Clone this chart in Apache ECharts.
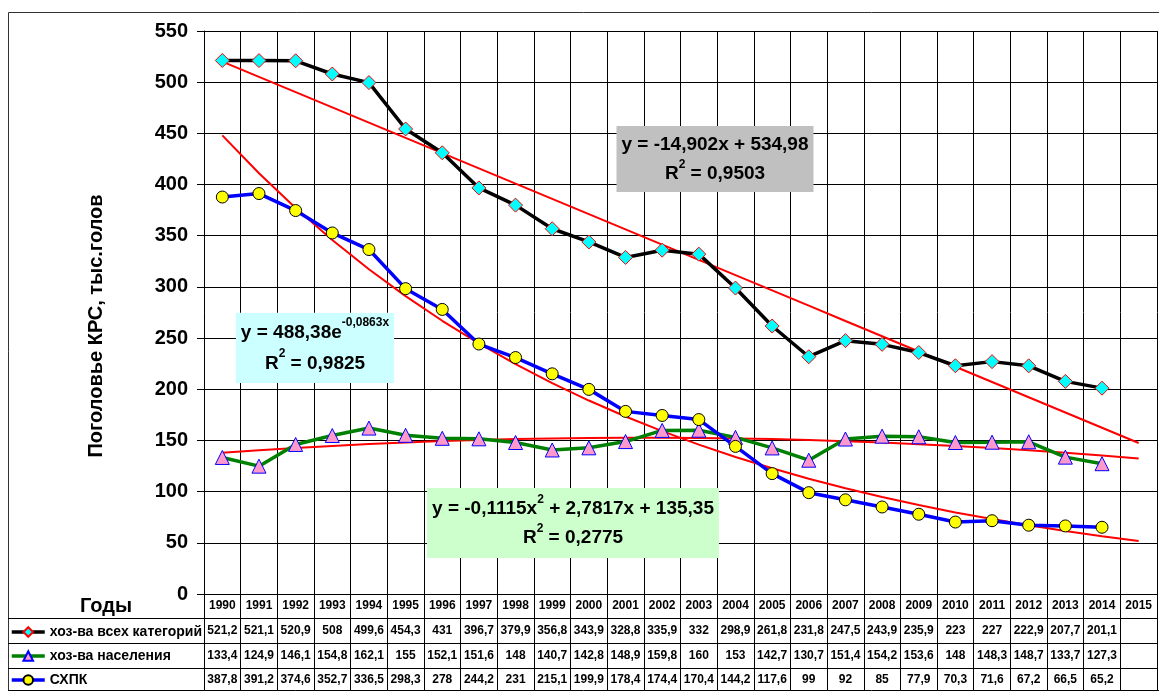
<!DOCTYPE html>
<html>
<head>
<meta charset="utf-8">
<script src="https://cdn.jsdelivr.net/npm/echarts@6/dist/echarts.min.js"></script>
<style>
  html, body { margin: 0; padding: 0; background: #fff; }
  #chart { width: 1159px; height: 691px; }
</style>
</head>
<body>
<div id="chart"></div>
<script>
// categories
const years = ['1990','1991','1992','1993','1994','1995','1996','1997','1998','1999','2000','2001','2002',
  '2003','2004','2005','2006','2007','2008','2009','2010','2011','2012','2013','2014','2015'];

// series values (thousand head), 2015 is empty in the table
const allFarms = [521.2, 521.1, 520.9, 508, 499.6, 454.3, 431, 396.7, 379.9, 356.8, 343.9, 328.8, 335.9,
  332, 298.9, 261.8, 231.8, 247.5, 243.9, 235.9, 223, 227, 222.9, 207.7, 201.1, null];
const households = [133.4, 124.9, 146.1, 154.8, 162.1, 155, 152.1, 151.6, 148, 140.7, 142.8, 148.9, 159.8,
  160, 153, 142.7, 130.7, 151.4, 154.2, 153.6, 148, 148.3, 148.7, 133.7, 127.3, null];
const shpk = [387.8, 391.2, 374.6, 352.7, 336.5, 298.3, 278, 244.2, 231, 215.1, 199.9, 178.4, 174.4,
  170.4, 144.2, 117.6, 99, 92, 85, 77.9, 70.3, 71.6, 67.2, 66.5, 65.2, null];

// trend lines as drawn on the picture
const trendLinear = [520.1, 505.2, 490.3, 475.4, 460.5, 445.6, 430.7, 415.8, 400.9, 386.0, 371.1, 356.2, 341.3,
  326.4, 311.5, 296.6, 281.7, 266.7, 251.8, 236.9, 222.0, 207.1, 192.2, 177.3, 162.4, 147.5];
const trendExp = [448.0, 411.0, 377.0, 345.8, 317.2, 291.0, 266.9, 244.9, 224.6, 206.1, 189.0, 173.4, 159.1,
  145.9, 133.8, 122.8, 112.6, 103.3, 94.8, 86.9, 79.7, 73.2, 67.1, 61.6, 56.5, 51.8];
const trendPoly = [138.0, 140.5, 142.7, 144.7, 146.5, 148.0, 149.4, 150.5, 151.4, 152.0, 152.5, 152.7, 152.7,
  152.4, 152.0, 151.3, 150.4, 149.3, 148.0, 146.4, 144.6, 142.6, 140.4, 137.9, 135.2, 132.3];

const seriesNames = ['хоз-ва всех категорий', 'хоз-ва населения', 'СХПК'];
const yMin = 0, yMax = 550, yStep = 50;

const FONT = 'Arial, "Liberation Sans", sans-serif';
const fmt = v => (v == null ? '' : String(v).replace('.', ','));

const chart = echarts.init(document.getElementById('chart'));

function tableAxis(offset, tickLen, values, margin) {
  return {
    type: 'category',
    data: years,
    position: 'bottom',
    offset: offset,
    boundaryGap: true,
    axisLine: { show: true, lineStyle: { color: '#000', width: 1 } },
    axisTick: { show: true, interval: 0, length: tickLen, lineStyle: { color: '#000', width: 1 } },
    axisLabel: {
      interval: 0, margin: margin, color: '#000', fontSize: 12, fontWeight: 'bold', fontFamily: FONT,
      formatter: values ? (v, i) => fmt(values[i]) : undefined
    },
    splitLine: { show: false }
  };
}

const mainX = tableAxis(0, 24, null, 6);
mainX.splitLine = { show: true, interval: 0, lineStyle: { color: '#000', width: 1 } };

// one legend per table row so each key sits in its own row
const legendRows = [625, 649, 673];
const legends = seriesNames.map((name, i) => ({
  data: [name],
  orient: 'vertical',
  left: 10,
  top: legendRows[i],
  padding: 0,
  itemWidth: 33,
  itemHeight: 12,
  selectedMode: false,
  lineStyle: { width: 3.5 },
  textStyle: { color: '#000', fontSize: 14, fontWeight: 'bold', fontFamily: FONT }
}));

const option = {
  animation: false,
  backgroundColor: '#fff',
  grid: { left: 204, right: 2, top: 31, bottom: 97, containLabel: false, outerBoundsMode: 'none' },
  legend: legends,
  xAxis: [
    mainX,
    tableAxis(24, 25, allFarms, 7),
    tableAxis(49, 25, households, 7),
    tableAxis(74, 22, shpk, 6)
  ],
  yAxis: {
    type: 'value',
    min: yMin,
    max: yMax,
    interval: yStep,
    axisLine: { show: true, lineStyle: { color: '#000', width: 1 } },
    axisTick: { show: true, length: 7, lineStyle: { color: '#000' } },
    axisLabel: { margin: 16, color: '#000', fontSize: 20, fontWeight: 'bold', fontFamily: FONT },
    splitLine: { show: true, lineStyle: { color: '#000', width: 1 } }
  },
  series: [
    {
      name: 'trendLinear', type: 'line', data: trendLinear, symbol: 'none', silent: true, z: 2,
      lineStyle: { color: '#ff0000', width: 2 }
    },
    {
      name: 'trendExp', type: 'line', data: trendExp, symbol: 'none', silent: true, z: 2,
      lineStyle: { color: '#ff0000', width: 2 }
    },
    {
      name: 'trendPoly', type: 'line', data: trendPoly, symbol: 'none', silent: true, z: 2,
      lineStyle: { color: '#ff0000', width: 2 }
    },
    {
      name: seriesNames[0], type: 'line', data: allFarms, z: 3,
      symbol: 'diamond', symbolSize: 14,
      lineStyle: { color: '#000', width: 3.5 },
      itemStyle: { color: '#00ffff', borderColor: '#ff0000', borderWidth: 1 }
    },
    {
      name: seriesNames[1], type: 'line', data: households, z: 3,
      symbol: 'triangle', symbolSize: 14,
      lineStyle: { color: '#008000', width: 3.5 },
      itemStyle: { color: '#ff99cc', borderColor: '#0000ff', borderWidth: 1 }
    },
    {
      name: seriesNames[2], type: 'line', data: shpk, z: 3,
      symbol: 'circle', symbolSize: 12,
      lineStyle: { color: '#0000ff', width: 3.5 },
      itemStyle: { color: '#ffff00', borderColor: '#000', borderWidth: 1 }
    }
  ],
  graphic: [
    // chart border
    { type: 'line', silent: true, shape: { x1: 8.5, y1: 12.5, x2: 1159, y2: 12.5 }, style: { stroke: '#333', lineWidth: 1 } },
    { type: 'line', silent: true, shape: { x1: 8.5, y1: 12.5, x2: 8.5, y2: 691 }, style: { stroke: '#333', lineWidth: 1 } },
    // left column of the data table
    { type: 'line', silent: true, shape: { x1: 8, y1: 618.5, x2: 204, y2: 618.5 }, style: { stroke: '#000', lineWidth: 1 } },
    { type: 'line', silent: true, shape: { x1: 8, y1: 643.5, x2: 204, y2: 643.5 }, style: { stroke: '#000', lineWidth: 1 } },
    { type: 'line', silent: true, shape: { x1: 8, y1: 668.5, x2: 204, y2: 668.5 }, style: { stroke: '#000', lineWidth: 1 } },
    { type: 'line', silent: true, shape: { x1: 8, y1: 690.5, x2: 1159, y2: 690.5 }, style: { stroke: '#000', lineWidth: 1 } },
    {
      type: 'text', silent: true, x: 106, y: 606,
      style: { text: 'Годы', font: 'bold 20px ' + FONT, fill: '#000', align: 'center', verticalAlign: 'middle' }
    },
    {
      type: 'text', silent: true, x: 96, y: 326, rotation: Math.PI / 2,
      style: { text: 'Поголовье КРС, тыс.голов', font: 'bold 20px ' + FONT, fill: '#000', align: 'center', verticalAlign: 'middle' }
    },
    // trendline equations
    {
      type: 'text', silent: true, x: 715, y: 159, z: 10,
      style: {
        text: '{b|y = -14,902x + 534,98}\n{b|R}{s|2}{b| = 0,9503}',
        align: 'center', verticalAlign: 'middle', backgroundColor: '#c0c0c0', padding: [4, 5],
        rich: {
          b: { font: 'bold 19px ' + FONT, fill: '#000', lineHeight: 29 },
          s: { font: 'bold 12px ' + FONT, fill: '#000', lineHeight: 18, verticalAlign: 'top' }
        }
      }
    },
    {
      type: 'text', silent: true, x: 315, y: 348, z: 10,
      style: {
        text: '{b|y = 488,38e}{s|-0,0863x}\n{b|R}{s|2}{b| = 0,9825}',
        align: 'center', verticalAlign: 'middle', backgroundColor: '#ccffff', padding: [4, 5],
        rich: {
          b: { font: 'bold 19px ' + FONT, fill: '#000', lineHeight: 31 },
          s: { font: 'bold 12px ' + FONT, fill: '#000', lineHeight: 18, verticalAlign: 'top' }
        }
      }
    },
    {
      type: 'text', silent: true, x: 573, y: 523, z: 10,
      style: {
        text: '{b|y = -0,1115x}{s|2}{b| + 2,7817x + 135,35}\n{b|R}{s|2}{b| = 0,2775}',
        align: 'center', verticalAlign: 'middle', backgroundColor: '#ccffcc', padding: [6, 5],
        rich: {
          b: { font: 'bold 19px ' + FONT, fill: '#000', lineHeight: 29 },
          s: { font: 'bold 12px ' + FONT, fill: '#000', lineHeight: 18, verticalAlign: 'top' }
        }
      }
    }
  ]
};

chart.setOption(option);
window.addEventListener('resize', () => chart.resize());
</script>
</body>
</html>
